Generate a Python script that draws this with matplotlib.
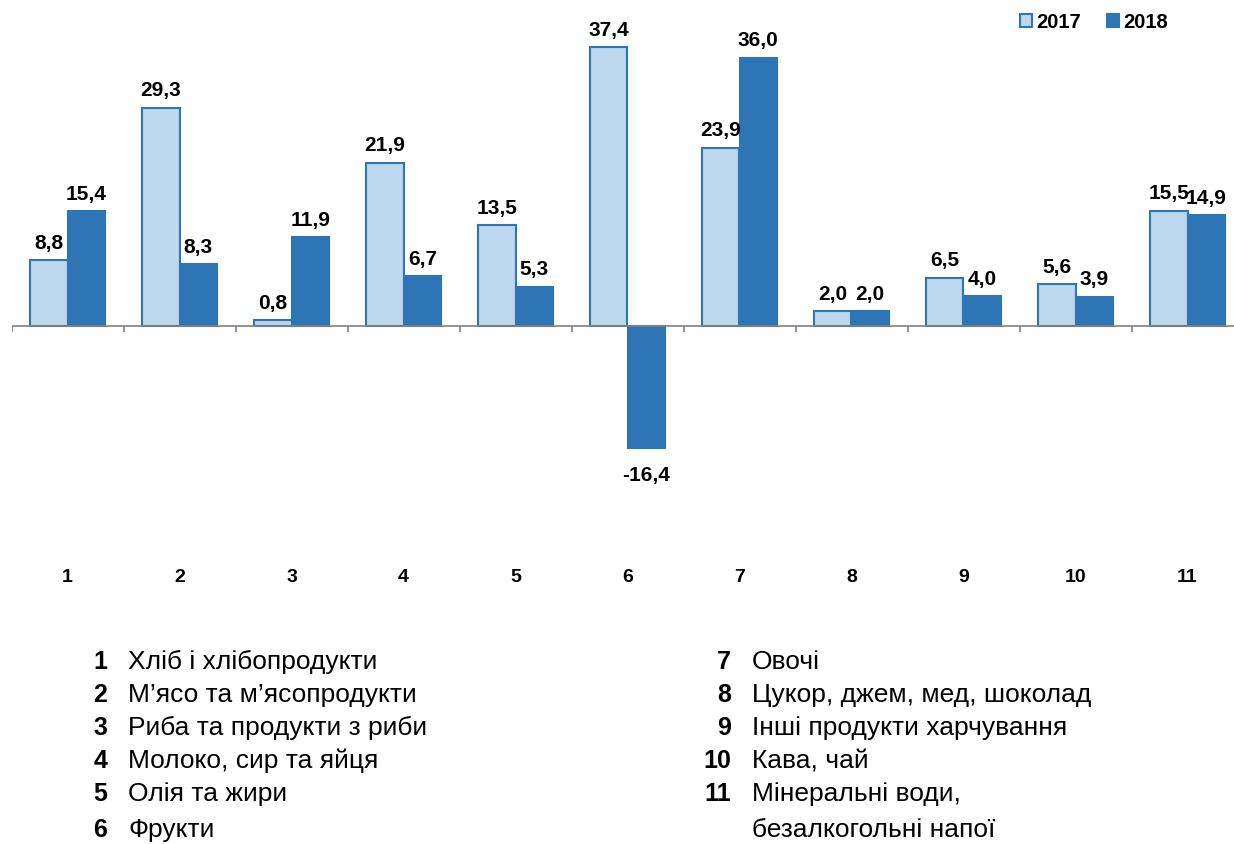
import matplotlib
matplotlib.use("Agg")
import matplotlib.pyplot as plt
from matplotlib.patches import Patch
import numpy as np

plt.rcParams['font.family'] = ['Liberation Sans', 'DejaVu Sans']

# Дані (зміна, %)
categorias = ["1", "2", "3", "4", "5", "6", "7", "8", "9", "10", "11"]
valores_2017 = [8.8, 29.3, 0.8, 21.9, 13.5, 37.4, 23.9, 2.0, 6.5, 5.6, 15.5]
valores_2018 = [15.4, 8.3, 11.9, 6.7, 5.3, -16.4, 36.0, 2.0, 4.0, 3.9, 14.9]
series = ["2017", "2018"]
nomes = ["Хліб і хлібопродукти", "М’ясо та м’ясопродукти", "Риба та продукти з риби",
         "Молоко, сир та яйця", "Олія та жири", "Фрукти", "Овочі",
         "Цукор, джем, мед, шоколад", "Інші продукти харчування", "Кава, чай",
         "Мінеральні води,\nбезалкогольні напої"]

cor_clara = '#BDD7EE'
cor_escura = '#2E75B6'
W, H = 1234, 844

fig = plt.figure(figsize=(W / 100, H / 100), dpi=100)
ax = fig.add_axes([11.5 / W, 1 - 560 / H, 1232 / W, 560 / H])
escala = 7.45
ax.set_xlim(-0.5, len(categorias) - 0.5)
ax.set_ylim(-234 / escala, 326 / escala)
ax.axis('off')

x = np.arange(len(categorias))
larg = 0.335
ax.bar(x - larg / 2, valores_2017, width=larg, color=cor_clara, edgecolor=cor_escura, linewidth=1.5, zorder=2)
ax.bar(x + larg / 2, valores_2018, width=larg, color=cor_escura, edgecolor=cor_escura, linewidth=1.5, zorder=2)

# linha do zero e marcas
ax.axhline(0, color='#808080', linewidth=1.2, zorder=3)
ax.vlines(np.arange(len(categorias) + 1) - 0.5, -0.8, 0, color='#808080', linewidth=1.2)

# rótulos de valores
for vals, desl in [(valores_2017, -larg / 2), (valores_2018, larg / 2)]:
    for i, v in enumerate(vals):
        txt = f"{v:.1f}".replace('.', ',')
        if v >= 0:
            ax.text(i + desl, v + 1.0, txt, ha='center', va='bottom', fontsize=15, fontweight='bold')
        else:
            ax.text(i + desl, v - 2.4, txt, ha='center', va='top', fontsize=15, fontweight='bold')

# números das categorias
for i, c in enumerate(categorias):
    ax.text(i, -(577 - 326) / escala, c, ha='center', va='center', fontsize=14, fontweight='bold', clip_on=False)

# legenda superior
handles = [Patch(facecolor=cor_clara, edgecolor=cor_escura, linewidth=1.5, label=series[0]),
           Patch(facecolor=cor_escura, edgecolor=cor_escura, linewidth=1.5, label=series[1])]
fig.legend(handles=handles, loc='center left', bbox_to_anchor=(1012 / W, 1 - 22 / H), ncol=2, frameon=False,
           prop={'weight': 'bold', 'size': 14.5}, handlelength=0.6, handleheight=0.6,
           handletextpad=0.2, columnspacing=1.3, borderaxespad=0)

# legenda inferior
linhas_y = [662, 695, 728, 761, 794, 830]
for i, nome in enumerate(nomes):
    if i < 6:
        xn, xt, k = 107, 128, i
    else:
        xn, xt, k = 731, 752, i - 6
    fig.text(xn / W, 1 - linhas_y[k] / H, categorias[i], ha='right', va='center', fontsize=18, fontweight='bold')
    for j, parte in enumerate(nome.split('\n')):
        fig.text(xt / W, 1 - linhas_y[k + j] / H, parte, ha='left', va='center', fontsize=19)

fig.savefig("out.png", dpi=100)
